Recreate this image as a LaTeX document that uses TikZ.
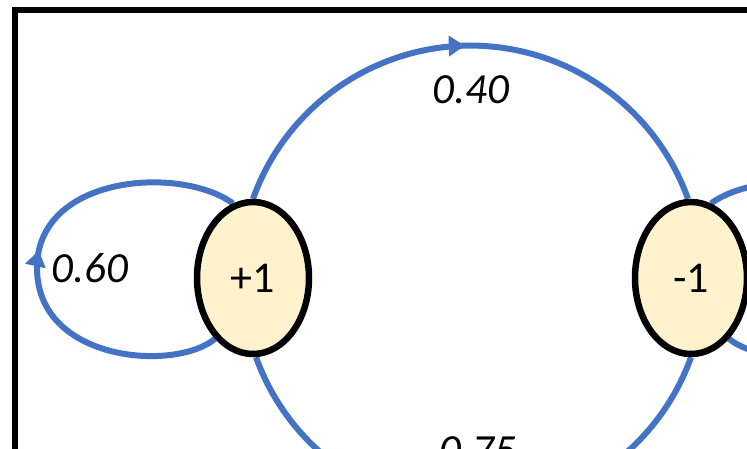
\documentclass[tikz,border=0pt]{standalone}
\usepackage{fontspec}
\setmainfont{Carlito}
\usetikzlibrary{arrows.meta,decorations.markings,backgrounds,shapes.geometric}
\definecolor{edgeblue}{HTML}{4472C4}
\definecolor{statefill}{HTML}{FFF2CC}
\tikzset{
  state/.style={ellipse, draw=black, line width=6.5pt, fill=statefill,
    minimum width=112pt, minimum height=152pt, inner sep=0pt,
    font=\fontsize{44}{52}\selectfont},
  trans/.style={draw, color=edgeblue, line width=6pt},
  midarrow/.style={postaction={decorate}, decoration={markings,
    mark=at position #1 with {\arrow{Triangle[length=16pt,width=20pt]}}}},
  prob/.style={font=\fontsize{43}{50}\selectfont\itshape, anchor=base, inner sep=0pt},
  framebox/.style={draw=black, line width=5.5pt}
}
\begin{document}
\begin{tikzpicture}[x=1pt,y=-1pt]
\useasboundingbox (0,0) rectangle (747,448);
\clip (0,0) rectangle (747,448);
\draw[framebox] (15,10) rectangle (800,500);
\node[state] (p1) at (253,278) {+1};
\node[state] (m1) at (691,278) {-1};
\begin{scope}[on background layer]
  \clip (0,0) rectangle (747,448);
  \fill[white] (0,0) rectangle (747,448);
  \draw[trans, midarrow=0.49] (p1.north) arc[start angle=199.7, end angle=340.3, radius=231];
  \draw[trans, midarrow=0.5] (m1.south) arc[start angle=19.7, end angle=160.3, radius=231];
  \draw[trans, midarrow=0.52] (p1.238) .. controls (175,372) and (37,362) .. (37,268)
        .. controls (37,175) and (180,165) .. (p1.105);
  \draw[trans] (m1.75) .. controls (764,165) and (907,175) .. (907,268)
        .. controls (907,362) and (769,372) .. (m1.302);
\end{scope}
\node[prob] (l40) at (471,103) {0.40};
\node[prob] (l60) at (90,282) {0.60};
\node[prob] (l75) at (478,464) {0.75};
\end{tikzpicture}
\end{document}
